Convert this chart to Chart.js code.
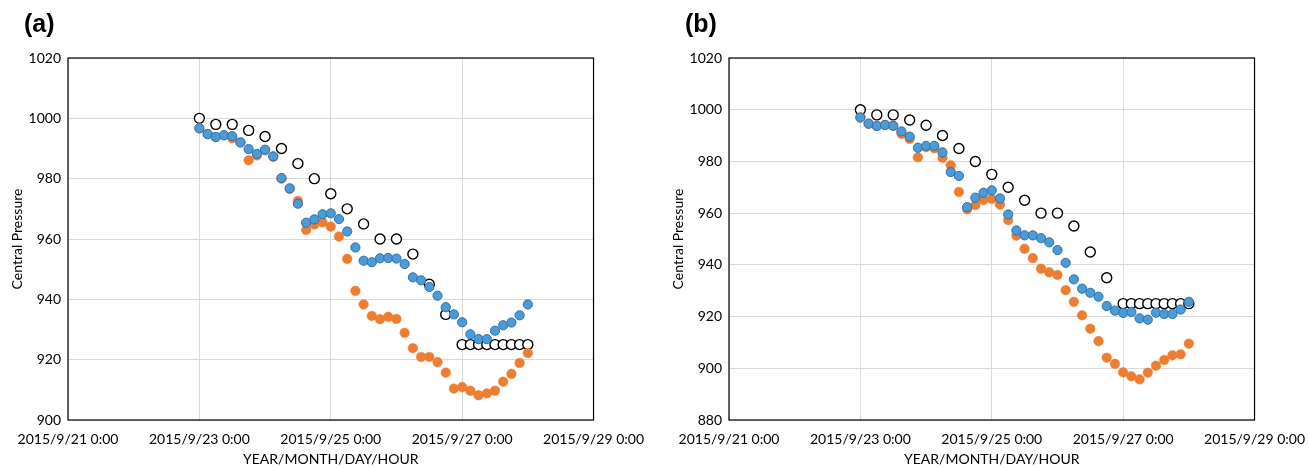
<!DOCTYPE html>
<html>
<head>
<meta charset="utf-8">
<title>Central pressure</title>
<script src="https://cdn.jsdelivr.net/npm/chart.js@4.4.1/dist/chart.umd.min.js"></script>
<style>
   body{margin:0;background:#fff;width:1309px;height:468px;overflow:hidden;position:relative;}
   .panel{position:absolute;top:0;}
   .panel canvas{display:block;}
   .tag{position:absolute;top:9px;font:bold 25px "Liberation Sans",Arial,sans-serif;color:#000;}
</style>
</head>
<body>

<div class="panel" style="left:0px"><canvas id="chartA" width="655" height="468"></canvas></div>
<div class="panel" style="left:661px"><canvas id="chartB" width="655" height="468"></canvas></div>
<div class="tag" style="left:24px">(a)</div>
<div class="tag" style="left:685px">(b)</div>

<script>

/* hours since 2015/9/21 0:00 */
let bestTrackHours = [48,54,60,66,72,78,84,90,96,102,108,114,120,126,132,138,144,147,150,153,156,159,162,165,168];

let bestTrack = [1000,998,998,996,994,990,985,980,975,970,965,960,960,955,945,935,925,925,925,925,925,925,925,925,925];

let modelHours = [48,51,54,57,60,63,66,69,72,75,78,81,84,87,90,93,96,99,102,105,108,111,114,117,120,123,126,129,132,135,138,141,144,147,150,153,156,159,162,165,168];

/* panel (a) */
let blueA = [996.7,994.8,993.8,994.4,994.1,992.0,989.8,988.2,989.6,987.4,980.2,976.8,971.7,965.4,966.5,968.2,968.5,966.6,962.5,957.2,952.8,952.3,953.6,953.7,953.5,951.7,947.3,946.3,944.1,941.2,937.4,935.0,932.4,928.4,926.8,926.8,929.6,931.4,932.3,934.7,938.3];

let orangeA = [996.7,994.8,993.8,994.4,993.4,992.0,986.1,987.7,989.4,987.2,980.0,976.6,972.6,963.0,964.8,965.5,964.1,960.8,953.4,942.8,938.3,934.5,933.4,934.2,933.5,928.9,923.8,920.9,920.9,919.2,915.7,910.4,910.9,909.7,908.2,908.8,909.7,912.7,915.3,918.9,922.2];

/* panel (b) */
let blueB = [997.0,994.6,993.7,994.1,993.8,991.6,989.6,985.3,986.0,986.0,983.5,975.9,974.4,962.3,966.0,967.9,968.8,965.7,959.5,953.3,951.4,951.4,950.3,948.7,945.7,940.8,934.4,930.8,929.2,927.7,924.1,922.3,921.4,921.8,919.3,918.8,921.5,921.0,921.0,922.7,925.7];

let orangeB = [997.0,994.6,993.7,994.1,993.8,990.7,988.7,981.6,985.5,985.1,981.4,978.5,968.2,961.5,963.1,965.1,965.5,963.3,957.3,951.3,946.2,942.6,938.5,937.1,936.1,930.2,925.7,920.5,915.3,910.5,904.1,901.7,898.4,896.9,895.7,898.3,901.0,903.2,905.0,905.4,909.5];

let xTickHours = [0,48,96,144,192];


Chart.defaults.font.family = "Lato, 'Liberation Sans', sans-serif";
Chart.defaults.font.size = 14;
Chart.defaults.color = "#000";

function toPoints(xs, ys){

   return xs.map(function(x,i){
      return {x:x, y:ys[i]};
   });

}

/* black frame round the plot area */
let framePlugin = {

   id:"frame",

   beforeDatasetsDraw:function(chart){

      let a = chart.chartArea;
      let ctx = chart.ctx;

      ctx.save();
      ctx.strokeStyle = "#000";
      ctx.lineWidth = 1.2;
      ctx.strokeRect(a.left, a.top, a.right-a.left, a.bottom-a.top);
      ctx.restore();

   }

};

function makeChart(id, blue, orange, yMin){

   let ctx = document.getElementById(id).getContext("2d");

   return new Chart(ctx, {

      type:"scatter",

      data:{

         datasets:[

            {
               data:toPoints(modelHours, blue),
               backgroundColor:"#4A9BD6",
               borderColor:"#2F6FAE",
               borderWidth:1,
               pointRadius:4.6
            },

            {
               data:toPoints(modelHours, orange),
               backgroundColor:"#ED7D31",
               borderColor:"#ED7D31",
               borderWidth:0.5,
               pointRadius:4.8
            },

            {
               data:toPoints(bestTrackHours, bestTrack),
               backgroundColor:"#fff",
               borderColor:"#000",
               borderWidth:1.4,
               pointRadius:5
            }

         ]

      },

      options:{

         responsive:false,
         animation:false,

         layout:{
            padding:{left:0, top:58, right:53, bottom:0}
         },

         plugins:{
            legend:{display:false},
            tooltip:{enabled:false}
         },

         scales:{

            x:{
               type:"linear",
               min:0,
               max:192,
               afterBuildTicks:function(scale){
                  scale.ticks = xTickHours.map(function(v){ return {value:v}; });
               },
               afterFit:function(scale){ scale.height = 48; },
               grid:{color:"#d9d9d9", drawTicks:false},
               border:{display:false},
               ticks:{
                  padding:11,
                  maxRotation:0,
                  callback:function(v){
                     return "2015/9/" + (21 + v/24) + " 0:00";
                  }
               },
               title:{
                  display:true,
                  text:"YEAR/MONTH/DAY/HOUR",
                  padding:{top:0, bottom:0}
               }
            },

            y:{
               min:yMin,
               max:1020,
               afterFit:function(scale){ scale.width = 68; },
               grid:{color:"#d9d9d9", drawTicks:false},
               border:{display:false},
               ticks:{
                  stepSize:20,
                  padding:7,
                  callback:function(v){ return String(v); }
               },
               title:{
                  display:true,
                  text:"Central Pressure",
                  padding:{top:9, bottom:0}
               }
            }

         }

      },

      plugins:[framePlugin]

   });

}

makeChart("chartA", blueA, orangeA, 900);
makeChart("chartB", blueB, orangeB, 880);

</script>
</body>
</html>
